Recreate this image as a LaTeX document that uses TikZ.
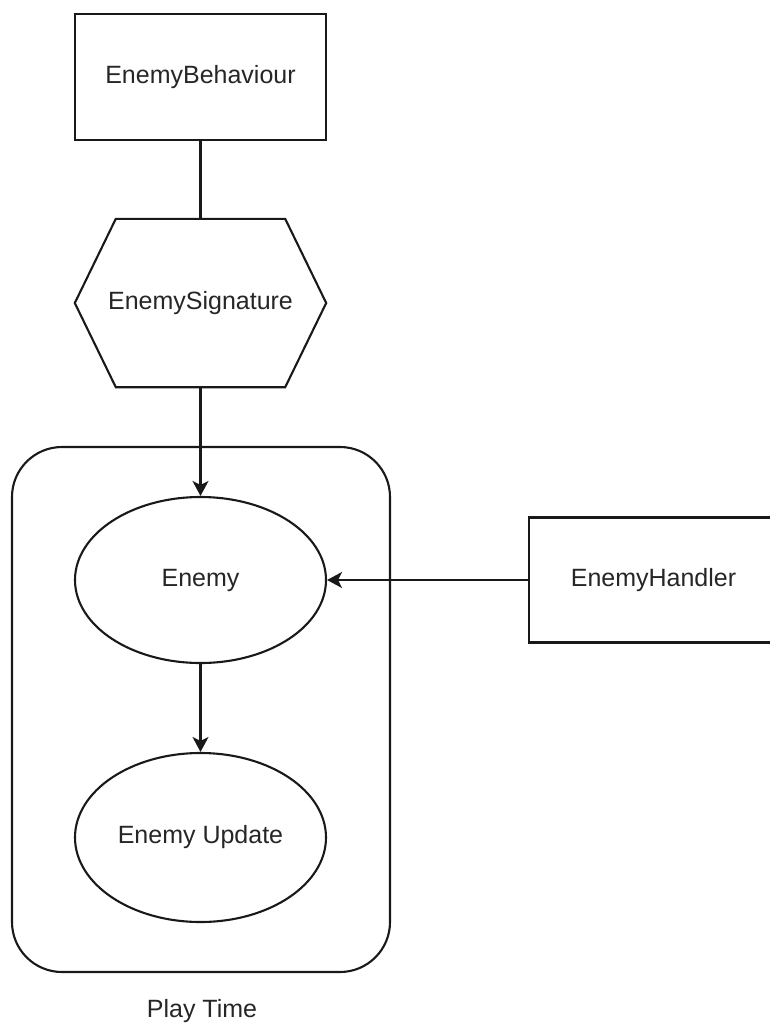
\documentclass[tikz,border=0pt]{standalone}
\usepackage{fontspec}
\setmainfont{Liberation Sans}
\usetikzlibrary{arrows.meta,shapes.geometric}
\begin{document}
\begin{tikzpicture}[x=1pt,y=-1pt,
  every node/.style={font=\fontsize{25}{29}\selectfont, text=black!85},
  line/.style={draw=black!90, line width=2.1pt},
  arr/.style={line, -{Stealth[length=15pt,width=16pt,inset=4pt]}},
  box/.style={line, rectangle, minimum width=#1, minimum height=125pt, inner sep=0pt},
  oval/.style={line, ellipse, minimum width=251pt, minimum height=#1, inner sep=0pt},
  hexarea/.style={rectangle, minimum width=251pt, minimum height=168pt, inner sep=0pt}
]
\useasboundingbox (0,0) rectangle (769,1025);

% Play Time container
\draw[line, rounded corners=50pt] (12,447) rectangle (390,972);
\node (pt) at (202,1011) {Play Time};

% Top component box
\node[box=251pt, minimum height=126pt] (beh) at (200.5,77) {EnemyBehaviour};

% Hexagonal signature
\node[hexarea] (sig) at (200.5,303) {EnemySignature};
\draw[line, line join=miter]
  ([xshift=41pt]sig.north west) -- ([xshift=-41pt]sig.north east) -- (sig.east)
  -- ([xshift=-41pt]sig.south east) -- ([xshift=41pt]sig.south west) -- (sig.west) -- cycle;

% States inside the container
\node[oval=166pt] (enemy) at (200.5,580) {Enemy};
\node[oval=169pt] (upd) at (200.5,837.5) {Enemy Update};

% Handler box on the right (runs past the page edge)
\node[box=249pt] (hand) at (653.5,580) {EnemyHandler};

% Connectors
\draw[line] (beh.south) -- (sig.north);
\draw[arr] (sig.south) -- (enemy.north);
\draw[arr] (hand.west) -- (enemy.east);
\draw[arr] (enemy.south) -- (upd.north);
\end{tikzpicture}
\end{document}
